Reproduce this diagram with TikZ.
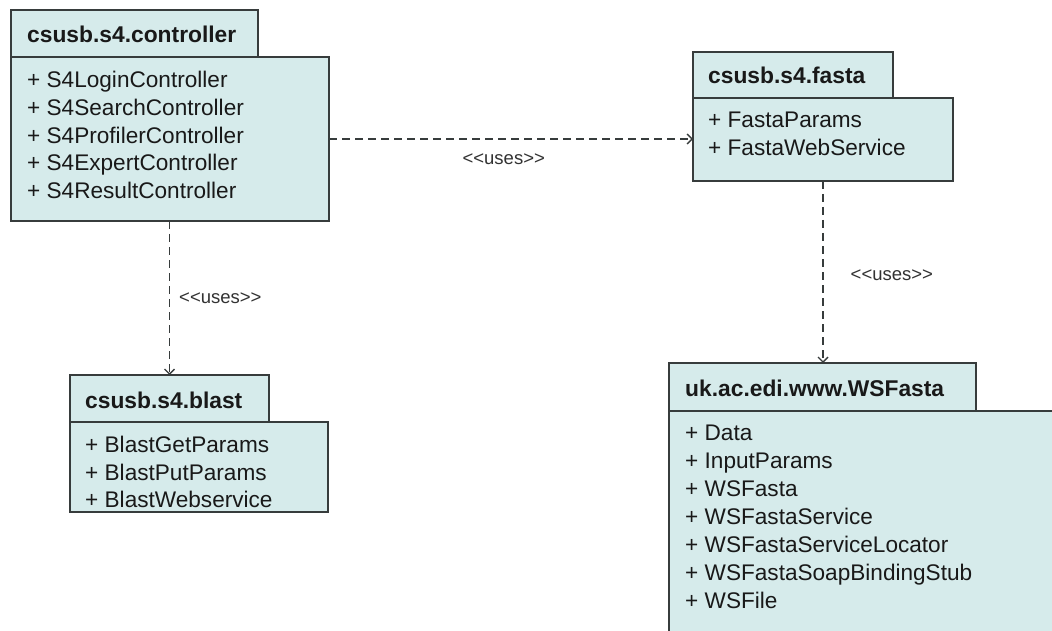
\documentclass[tikz,border=0pt]{standalone}
\usepackage{fontspec}
\setmainfont{Liberation Sans}
\usetikzlibrary{arrows.meta}

\definecolor{pkgfill}{RGB}{214,235,235}
\definecolor{pkgline}{RGB}{55,60,60}
\definecolor{inktext}{RGB}{25,25,25}
\definecolor{tagtext}{RGB}{50,50,50}

% stereotype text, with the angle brackets kept apart from each other
\newcommand{\usesstereo}{<\kern0pt<uses>\kern0pt>}

\tikzset{
  pkgbox/.style={draw=pkgline, fill=pkgfill, line width=1.6pt,
    inner sep=0pt, outer sep=0pt, anchor=north west},
  pkgtitle/.style={anchor=west, inner sep=0pt, text=inktext,
    font=\fontsize{22.8}{26}\selectfont\bfseries},
  pkgitem/.style={anchor=base west, inner sep=0pt, text=inktext,
    font=\fontsize{22.6}{26}\selectfont},
  uses/.style={draw=pkgline, line width=1.4pt, dash pattern=on 8pt off 5pt,
    -{Straight Barb[length=5pt,width=10pt,line width=1.4pt]}},
  usestag/.style={inner sep=0pt, text=tagtext,
    font=\fontsize{18.5}{21}\selectfont}
}

\begin{document}
\begin{tikzpicture}[x=1pt,y=-1pt]
  \useasboundingbox (0,0) rectangle (1052,631);
  \clip (0,0) rectangle (1052,631);
  \fill[white] (0,0) rectangle (1052,631);

  % package csusb.s4.controller
  \node[pkgbox, minimum width=318pt, minimum height=164pt] (ctrlbody) at (11,57) {};
  \node[pkgbox, minimum width=247pt, minimum height=47pt] (ctrltab) at (11,10) {};
  \node[pkgtitle] (ctrltitle) at (27,34) {csusb.s4.controller};
  \foreach \name [count=\i] in {S4LoginController,S4SearchController,
      S4ProfilerController,S4ExpertController,S4ResultController}
    \node[pkgitem] (ctrlitem\i) at (27,{80+27.8*(\i-1)+7.5}) {+ \name};

  % package csusb.s4.fasta
  \node[pkgbox, minimum width=260pt, minimum height=83pt] (fastabody) at (693,98) {};
  \node[pkgbox, minimum width=200pt, minimum height=46pt] (fastatab) at (693,52) {};
  \node[pkgtitle] (fastatitle) at (708,75) {csusb.s4.fasta};
  \foreach \name [count=\i] in {FastaParams,FastaWebService}
    \node[pkgitem] (fastaitem\i) at (708,{120+27.8*(\i-1)+7.5}) {+ \name};

  % package csusb.s4.blast
  \node[pkgbox, minimum width=258pt, minimum height=90pt] (blastbody) at (70,422) {};
  \node[pkgbox, minimum width=199pt, minimum height=47pt] (blasttab) at (70,375) {};
  \node[pkgtitle] (blasttitle) at (85,400) {csusb.s4.blast};
  \foreach \name [count=\i] in {BlastGetParams,BlastPutParams,BlastWebservice}
    \node[pkgitem] (blastitem\i) at (85,{445+27.6*(\i-1)+7.5}) {+ \name};

  % package uk.ac.edi.www.WSFasta (runs past the lower right edge)
  \node[pkgbox, minimum width=400pt, minimum height=240pt] (wsbody) at (669,411) {};
  \node[pkgbox, minimum width=307pt, minimum height=48pt] (wstab) at (669,363) {};
  \node[pkgtitle] (wstitle) at (685,388) {uk.ac.edi.www.WSFasta};
  \foreach \name [count=\i] in {Data,InputParams,WSFasta,WSFastaService,
      WSFastaServiceLocator,WSFastaSoapBindingStub,WSFile}
    \node[pkgitem] (wsitem\i) at (685,{433+28*(\i-1)+7.5}) {+ \name};

  % dependencies
  \draw[uses] (ctrlbody.east) -- (ctrlbody.east -| fastabody.west)
    node[usestag, pos=0.48, below=14pt] (tag1) {\usesstereo};
  \draw[uses] (blasttab.north |- ctrlbody.south) -- (blasttab.north)
    node[usestag, pos=0.5, right=9pt] (tag2) {\usesstereo};
  \draw[uses] (fastabody.south) -- (fastabody.south |- wstab.north)
    node[usestag, pos=0.52, right=27pt] (tag3) {\usesstereo};
\end{tikzpicture}
\end{document}
